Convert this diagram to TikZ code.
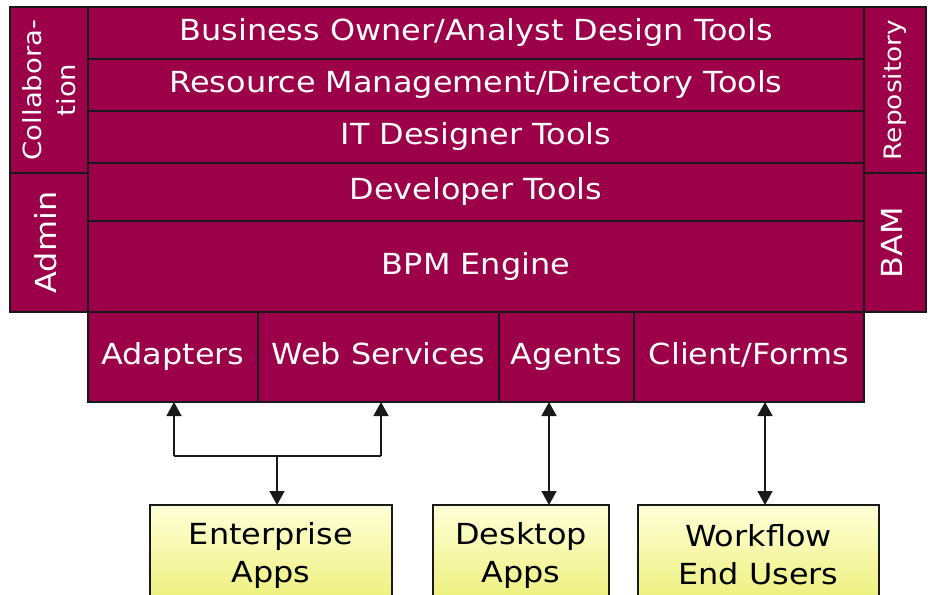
\documentclass[tikz,border=0pt]{standalone}
\usepackage{fontspec}
\setmainfont[FakeStretch=1.1]{DejaVu Sans}
\usetikzlibrary{arrows.meta}
\definecolor{plum}{RGB}{156,0,72}
\definecolor{ytop}{RGB}{255,255,215}
\definecolor{ybot}{RGB}{236,240,120}
\tikzset{
  box/.style={draw=black!90, line width=1.3pt, fill=plum, text=white, inner sep=0pt, outer sep=0pt, font=\fontsize{29}{34}\selectfont, align=center},
  one/.style={text height=21pt, text depth=6pt},
  ybox/.style={draw=black!90, line width=1.3pt, top color=ytop, bottom color=ybot, text=black, inner sep=0pt, outer sep=0pt, font=\fontsize{29}{38}\selectfont, align=center, anchor=north west},
  link/.style={line width=1.3pt, draw=black!90, {Triangle[length=14pt,width=15pt]}-{Triangle[length=14pt,width=15pt]}},
  plain/.style={line width=1.3pt, draw=black!90},
  tip/.style={line width=1.3pt, draw=black!90, -{Triangle[length=14pt,width=15pt]}}
}
\begin{document}
\begin{tikzpicture}[x=1pt,y=-1pt]
\useasboundingbox (0,0) rectangle (928,594);
\clip (0,0) rectangle (928,594);
% left column
\node[box, rotate=90, minimum width=166pt, minimum height=78pt, font=\fontsize{25}{34}\selectfont] (collab) at (49,90) {Collabora-\\tion};
\node[box, one, rotate=90, minimum width=139pt, minimum height=78pt] (admin) at (49,242.5) {Admin};
% right column
\node[box, rotate=90, minimum width=166pt, minimum height=62pt, font=\fontsize{24}{28}\selectfont] (repo) at (895,90) {Repository};
\node[box, one, rotate=90, minimum width=139pt, minimum height=62pt] (bam) at (895,242.5) {BAM};
% center rows
\node[box, one, anchor=north west, minimum width=776pt, minimum height=52pt] (biz) at (88,7) {Business Owner/Analyst Design Tools};
\node[box, one, anchor=north west, minimum width=776pt, minimum height=52pt] (res) at (88,59) {Resource Management/Directory Tools};
\node[box, one, anchor=north west, minimum width=776pt, minimum height=52pt] (itd) at (88,111) {IT Designer Tools};
\node[box, one, anchor=north west, minimum width=776pt, minimum height=58pt] (dev) at (88,163) {Developer Tools};
\node[box, one, anchor=north west, minimum width=776pt, minimum height=91pt] (bpm) at (88,221) {BPM Engine};
% bottom row
\node[box, one, anchor=north west, minimum width=170pt, minimum height=90pt] (adp) at (88,312) {Adapters};
\node[box, one, anchor=north west, minimum width=241pt, minimum height=90pt] (ws) at (258,312) {Web Services};
\node[box, one, anchor=north west, minimum width=135pt, minimum height=90pt] (agt) at (499,312) {Agents};
\node[box, one, anchor=north west, minimum width=230pt, minimum height=90pt] (cli) at (634,312) {Client/Forms};
% yellow boxes
\node[ybox, minimum width=242pt, minimum height=100pt] (ent) at (150,505) {Enterprise\\Apps};
\node[ybox, minimum width=176pt, minimum height=100pt] (desk) at (433,505) {Desktop\\Apps};
\node[ybox, minimum width=241pt, minimum height=100pt] (wf) at (638,505) {Workflow\\End Users};
% connectors
\coordinate (jl) at (174,456);
\coordinate (jr) at (381,456);
\coordinate (jm) at (277,456);
\draw[tip] (jl) -- (adp.south -| jl);
\draw[tip] (jr) -- (ws.south -| jr);
\draw[plain] (jl) -- (jr);
\draw[tip] (jm) -- (ent.north -| jm);
\draw[link] (agt.south -| 549,0) -- (desk.north -| 549,0);
\draw[link] (cli.south -| 765,0) -- (wf.north -| 765,0);
\end{tikzpicture}
\end{document}
